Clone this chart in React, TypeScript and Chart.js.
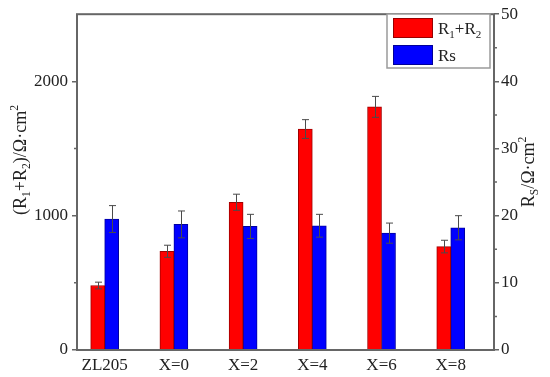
import React, { useEffect, useRef } from "react";
import { Chart, registerables } from "chart.js";

Chart.register(...registerables);

const categories = ["ZL205", "X=0", "X=2", "X=4", "X=6", "X=8"];
const r12Values = [480, 735, 1100, 1645, 1810, 770];
const r12Errors = [25, 45, 60, 70, 78, 47];
const rsValues = [19.5, 18.7, 18.4, 18.5, 17.4, 18.2];
const rsErrors = [2.0, 2.0, 1.8, 1.7, 1.5, 1.8];
const leftMajorTicks = [0, 1000, 2000];
const leftMinorTicks = [500, 1500];
const rightMajorTicks = [0, 10, 20, 30, 40, 50];
const rightMinorTicks = [5, 15, 25, 35, 45];

const FONT = "'Liberation Serif', 'Times New Roman', serif";
const FRAME = "#666666";
const TEXT = "#222222";

type Part = { t: string; sub?: boolean; sup?: boolean };

function measureRich(ctx: CanvasRenderingContext2D, parts: Part[], size: number) {
  let w = 0;
  for (const p of parts) {
    const s = p.sub || p.sup ? size * 0.65 : size;
    ctx.font = `${s}px ${FONT}`;
    w += ctx.measureText(p.t).width;
  }
  return w;
}

function drawRich(ctx: CanvasRenderingContext2D, parts: Part[], x: number, y: number, size: number, align: "left" | "center") {
  const total = measureRich(ctx, parts, size);
  let cx = align === "center" ? x - total / 2 : x;
  ctx.textBaseline = "alphabetic";
  ctx.textAlign = "left";
  for (const p of parts) {
    const s = p.sub || p.sup ? size * 0.65 : size;
    ctx.font = `${s}px ${FONT}`;
    const dy = p.sub ? size * 0.22 : p.sup ? -size * 0.42 : 0;
    ctx.fillText(p.t, cx, y + dy);
    cx += ctx.measureText(p.t).width;
  }
}

const decorPlugin = {
  id: "decor",
  afterDatasetsDraw(chart: any) {
    const ctx: CanvasRenderingContext2D = chart.ctx;
    const errs = [r12Errors, rsErrors];
    const vals = [r12Values, rsValues];
    ctx.save();
    ctx.strokeStyle = "#4a4a4a";
    ctx.lineWidth = 1;
    chart.data.datasets.forEach((ds: any, di: number) => {
      const meta = chart.getDatasetMeta(di);
      const yScale = chart.scales[ds.yAxisID];
      meta.data.forEach((el: any, i: number) => {
        const x = Math.round(el.x) + 0.5;
        const top = yScale.getPixelForValue(vals[di][i] + errs[di][i]);
        const bot = yScale.getPixelForValue(vals[di][i] - errs[di][i]);
        ctx.beginPath();
        ctx.moveTo(x, top);
        ctx.lineTo(x, bot);
        ctx.moveTo(x - 3.5, top);
        ctx.lineTo(x + 3.5, top);
        ctx.moveTo(x - 3.5, bot);
        ctx.lineTo(x + 3.5, bot);
        ctx.stroke();
      });
    });
    ctx.restore();
  },
  afterDraw(chart: any) {
    const ctx: CanvasRenderingContext2D = chart.ctx;
    const a = chart.chartArea;
    ctx.save();
    // frame
    ctx.strokeStyle = FRAME;
    ctx.lineWidth = 2;
    ctx.strokeRect(a.left, a.top, a.right - a.left, a.bottom - a.top);
    // minor ticks
    ctx.lineWidth = 1.5;
    const yl = chart.scales.y;
    const yr = chart.scales.y1;
    ctx.beginPath();
    for (const v of leftMinorTicks) {
      const py = yl.getPixelForValue(v);
      ctx.moveTo(a.left - 3, py);
      ctx.lineTo(a.left, py);
    }
    for (const v of rightMinorTicks) {
      const py = yr.getPixelForValue(v);
      ctx.moveTo(a.right, py);
      ctx.lineTo(a.right + 3, py);
    }
    ctx.stroke();

    // axis titles
    ctx.fillStyle = TEXT;
    ctx.save();
    ctx.translate(26, 160);
    ctx.rotate(-Math.PI / 2);
    drawRich(ctx, [{ t: "(R" }, { t: "1", sub: true }, { t: "+R" }, { t: "2", sub: true }, { t: ")/Ω·cm" }, { t: "2", sup: true }], 0, 0, 18, "center");
    ctx.restore();
    ctx.save();
    ctx.translate(534, 172);
    ctx.rotate(-Math.PI / 2);
    drawRich(ctx, [{ t: "R" }, { t: "S", sub: true }, { t: "/Ω·cm" }, { t: "2", sup: true }], 0, 0, 18, "center");
    ctx.restore();

    // legend
    ctx.strokeStyle = "#9a9a9a";
    ctx.lineWidth = 1.5;
    ctx.fillStyle = "#ffffff";
    ctx.fillRect(387, 14, 103, 54);
    ctx.strokeRect(387, 14, 103, 54);
    const items = [
      { color: "#ff0000", border: "#990000", parts: [{ t: "R" }, { t: "1", sub: true }, { t: "+R" }, { t: "2", sub: true }] as Part[], y: 18 },
      { color: "#0000ff", border: "#000099", parts: [{ t: "Rs" }] as Part[], y: 45 },
    ];
    for (const it of items) {
      ctx.fillStyle = it.color;
      ctx.fillRect(393, it.y, 40, 20);
      ctx.strokeStyle = it.border;
      ctx.lineWidth = 1;
      ctx.strokeRect(393.5, it.y + 0.5, 39, 19);
      ctx.fillStyle = TEXT;
      drawRich(ctx, it.parts, 438, it.y + 16, 17, "left");
    }
    ctx.restore();
  },
};

export default function App() {
  const ref = useRef<HTMLCanvasElement | null>(null);
  useEffect(() => {
    if (!ref.current) return;
    const chart = new Chart(ref.current, {
      type: "bar",
      data: {
        datasets: [
          {
            label: "R1+R2",
            data: r12Values.map((v, i) => ({ x: i + 1, y: v })),
            backgroundColor: "#ff0000",
            borderColor: "#a00000",
            borderWidth: 1,
            barThickness: 14,
            yAxisID: "y",
          },
          {
            label: "Rs",
            data: rsValues.map((v, i) => ({ x: i + 1, y: v })),
            backgroundColor: "#0000ff",
            borderColor: "#0000a0",
            borderWidth: 1,
            barThickness: 14,
            yAxisID: "y1",
          },
        ],
      },
      options: {
        responsive: false,
        animation: false,
        layout: { padding: { top: 12, left: 0, right: 0, bottom: 0 } },
        plugins: { legend: { display: false }, tooltip: { enabled: false } },
        scales: {
          x: {
            type: "linear",
            min: 0.6,
            max: 6.625,
            offset: false,
            grid: { display: false, drawTicks: false },
            border: { display: false },
            afterBuildTicks: (s: any) => {
              s.ticks = categories.map((_, i) => ({ value: i + 1 }));
            },
            afterFit: (s: any) => {
              s.height = 27;
            },
            ticks: {
              autoSkip: false,
              maxRotation: 0,
              padding: 5,
              color: TEXT,
              font: { family: FONT, size: 17 },
              callback: (v: any) => categories[Math.round(Number(v)) - 1] ?? "",
            },
          },
          y: {
            type: "linear",
            position: "left",
            min: 0,
            max: 2500,
            grid: { drawOnChartArea: false, drawTicks: true, tickLength: 5, color: FRAME, lineWidth: 1.5 },
            border: { display: false },
            afterBuildTicks: (s: any) => {
              s.ticks = leftMajorTicks.map((v) => ({ value: v }));
            },
            afterFit: (s: any) => {
              s.width = 77;
            },
            ticks: { padding: 4, color: TEXT, font: { family: FONT, size: 17 }, callback: (v: any) => String(v) },
          },
          y1: {
            type: "linear",
            position: "right",
            min: 0,
            max: 50,
            grid: { drawOnChartArea: false, drawTicks: true, tickLength: 5, color: FRAME, lineWidth: 1.5 },
            border: { display: false },
            afterBuildTicks: (s: any) => {
              s.ticks = rightMajorTicks.map((v) => ({ value: v }));
            },
            afterFit: (s: any) => {
              s.width = 56;
            },
            ticks: { padding: 2, color: TEXT, font: { family: FONT, size: 17 }, callback: (v: any) => String(v) },
          },
        },
      },
      plugins: [decorPlugin],
    });
    return () => chart.destroy();
  }, []);
  return (
    <div style={{ position: "fixed", left: 0, top: 0, width: 550, height: 377, background: "#fff" }}>
      <canvas ref={ref} width={550} height={377} />
    </div>
  );
}
